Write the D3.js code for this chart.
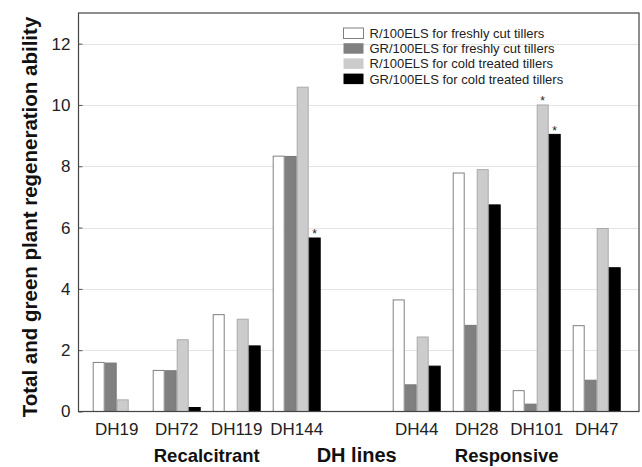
<!DOCTYPE html>
<html lang="en">
<head>
    <meta charset="UTF-8">
    <title>DH lines regeneration</title>
    <style>
        body { margin: 0; background: #fff; }
        #chart { font-family: Arial, "Liberation Sans", sans-serif; }
        .grid line { stroke: #e4e4e4; stroke-width: 1px; }
        .tick-label { font-size: 17px; fill: #222; }
        .legend-text { font-size: 13px; fill: #222; }
    </style>
    <script src="https://d3js.org/d3.v7.min.js"></script>
</head>
<body>
    <div id="chart"></div>
    <script>
        // DH lines (empty slot between the two groups)
        const lines = ['DH19', 'DH72', 'DH119', 'DH144', '', 'DH44', 'DH28', 'DH101', 'DH47'];
        const seriesNames = [
            'R/100ELS for freshly cut tillers',
            'GR/100ELS for freshly cut tillers',
            'R/100ELS for cold treated tillers',
            'GR/100ELS for cold treated tillers'
        ];
        // values per series, one per line (null for empty slot)
        const rFresh  = [1.60, 1.34, 3.16, 8.33, null, 3.64, 7.78, 0.68, 2.80];
        const grFresh = [1.58, 1.33, 0.00, 8.32, null, 0.87, 2.81, 0.24, 1.02];
        const rCold   = [0.38, 2.34, 3.01, 10.58, null, 2.43, 7.89, 10.00, 5.97];
        const grCold  = [0.00, 0.13, 2.14, 5.66, null, 1.48, 6.74, 9.04, 4.69];
        // significance marks (*) per series
        const starRCold  = [false, false, false, false, false, false, false, true, false];
        const starGRCold = [false, false, false, true, false, false, false, true, false];
        const yTicks = [0, 2, 4, 6, 8, 10, 12];

        const fills = ['#ffffff', '#808080', '#cccccc', '#000000'];
        const strokes = ['#808080', '#777777', '#aaaaaa', '#000000'];

        const width = 642, height = 467;
        const plot = { left: 78.5, right: 639, top: 13, bottom: 411.5 };

        const svg = d3.select("#chart")
            .append("svg")
            .attr("width", width)
            .attr("height", height);

        const y = d3.scaleLinear()
            .domain([0, 13])
            .range([plot.bottom, plot.top]);

        const x = d3.scaleBand()
            .domain(d3.range(lines.length))
            .range([80.7, 632.7])
            .paddingInner(0.2)
            .paddingOuter(0.2);

        const xs = d3.scaleBand()
            .domain(d3.range(seriesNames.length))
            .range([0, x.bandwidth()]);

        // gridlines
        svg.append("g")
            .attr("class", "grid")
            .selectAll("line")
            .data(yTicks.filter(d => d > 0))
            .enter().append("line")
            .attr("x1", plot.left)
            .attr("x2", plot.right)
            .attr("y1", d => Math.round(y(d)) + 0.5)
            .attr("y2", d => Math.round(y(d)) + 0.5);

        // y axis ticks + labels
        const yAxis = svg.append("g")
            .attr("transform", `translate(${plot.left},0)`)
            .call(d3.axisLeft(y).tickValues(yTicks).tickSize(-4).tickPadding(8));
        yAxis.select(".domain").remove();
        yAxis.selectAll(".tick line").attr("stroke", "#555");
        yAxis.selectAll(".tick text")
            .attr("class", "tick-label")
            .style("font-size", "17px")
            .style("font-family", "Arial, 'Liberation Sans', sans-serif")
            .attr("fill", "#222");

        // bars
        const allSeries = [rFresh, grFresh, rCold, grCold];
        const barData = [];
        allSeries.forEach((vals, s) => {
            vals.forEach((v, i) => {
                if (v !== null && v > 0) barData.push({ s: s, i: i, v: v });
            });
        });

        svg.selectAll(".bar")
            .data(barData)
            .enter().append("rect")
            .attr("class", "bar")
            .attr("x", d => x(d.i) + xs(d.s) + 0.5)
            .attr("width", xs.bandwidth() - 1)
            .attr("y", d => y(d.v))
            .attr("height", d => y(0) - y(d.v))
            .attr("fill", d => fills[d.s])
            .attr("stroke", d => strokes[d.s])
            .attr("stroke-width", 1);

        // asterisks
        const stars = [];
        starRCold.forEach((f, i) => { if (f) stars.push({ s: 2, i: i, v: rCold[i] }); });
        starGRCold.forEach((f, i) => { if (f) stars.push({ s: 3, i: i, v: grCold[i] }); });
        svg.selectAll(".star")
            .data(stars)
            .enter().append("text")
            .attr("x", d => x(d.i) + xs(d.s) + xs.bandwidth() / 2)
            .attr("y", d => y(d.v) + 0.5)
            .attr("text-anchor", "middle")
            .style("font-size", "12px")
            .attr("fill", "#222")
            .text("*");

        // plot frame
        svg.append("rect")
            .attr("x", plot.left)
            .attr("y", plot.top)
            .attr("width", plot.right - plot.left)
            .attr("height", plot.bottom - plot.top)
            .attr("fill", "none")
            .attr("stroke", "#444")
            .attr("stroke-width", 1.2);

        // category labels
        svg.selectAll(".cat")
            .data(lines)
            .enter().append("text")
            .attr("x", (d, i) => x(i) + x.bandwidth() / 2)
            .attr("y", 435)
            .attr("text-anchor", "middle")
            .style("font-size", "17px")
            .attr("fill", "#222")
            .text(d => d);

        // group and axis titles
        svg.append("text")
            .attr("x", (x(0) + x(3) + x.bandwidth()) / 2)
            .attr("y", 462)
            .attr("text-anchor", "middle")
            .style("font-size", "18.5px")
            .style("font-weight", "bold")
            .attr("fill", "#111")
            .text("Recalcitrant");

        svg.append("text")
            .attr("x", x(4) + x.bandwidth() / 2)
            .attr("y", 462)
            .attr("text-anchor", "middle")
            .style("font-size", "20px")
            .style("font-weight", "bold")
            .attr("fill", "#111")
            .text("DH lines");

        svg.append("text")
            .attr("x", (x(5) + x(8) + x.bandwidth()) / 2)
            .attr("y", 462)
            .attr("text-anchor", "middle")
            .style("font-size", "18.5px")
            .style("font-weight", "bold")
            .attr("fill", "#111")
            .text("Responsive");

        svg.append("text")
            .attr("transform", `translate(37,217) rotate(-90)`)
            .attr("text-anchor", "middle")
            .style("font-size", "20.5px")
            .style("font-weight", "bold")
            .attr("fill", "#111")
            .text("Total and green plant regeneration ability");

        // legend
        const legend = svg.selectAll(".legend")
            .data(seriesNames)
            .enter().append("g")
            .attr("class", "legend")
            .attr("transform", (d, i) => `translate(343.5, ${28 + i * 15.2})`);

        legend.append("rect")
            .attr("width", 20)
            .attr("height", 10.5)
            .attr("fill", (d, i) => fills[i])
            .attr("stroke", (d, i) => i === 0 ? "#808080" : "none");

        legend.append("text")
            .attr("class", "legend-text")
            .attr("x", 26)
            .attr("y", 5.5)
            .attr("dy", ".35em")
            .text(d => d);
    </script>
</body>
</html>
